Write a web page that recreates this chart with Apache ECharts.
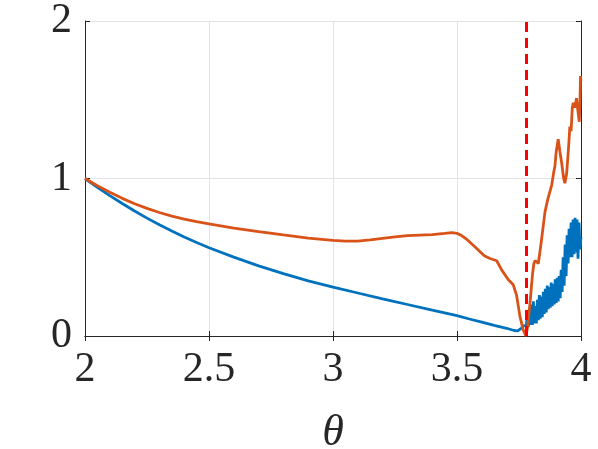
<!DOCTYPE html>
<html>
<head>
<meta charset="utf-8">
<script src="https://cdn.jsdelivr.net/npm/echarts@6/dist/echarts.min.js"></script>
<style>html,body{margin:0;padding:0;background:#fff;}#c{width:598px;height:449px;}</style>
</head>
<body>
<div id="c"></div>
<script>
// theta values and series data
var blueSmooth = [[2.0,1.0],[2.05,0.944],[2.1,0.891],[2.15,0.841],[2.2,0.7935],[2.25,0.7485],[2.3,0.706],[2.35,0.666],[2.4,0.6285],[2.45,0.5935],[2.5,0.5605],[2.6,0.5005],[2.7,0.4455],[2.8,0.3955],[2.9,0.3505],[3.0,0.3105],[3.1,0.273],[3.2,0.236],[3.3,0.2],[3.4,0.164],[3.5,0.129],[3.55,0.108],[3.6,0.088],[3.65,0.068],[3.7,0.049],[3.73,0.035],[3.745,0.033],[3.76,0.05],[3.77,0.065],[3.776,0.06]];
var blueNoisyTheta = [3.780,3.784,3.788,3.792,3.796,3.800,3.804,3.808,3.812,3.816,3.820,3.824,3.828,3.832,3.836,3.840,3.844,3.848,3.852,3.856,3.860,3.864,3.868,3.872,3.876,3.880,3.884,3.888,3.892,3.896,3.900,3.904,3.908,3.912,3.916,3.920,3.924,3.928,3.932,3.936,3.940,3.944,3.948,3.952,3.956,3.960,3.964,3.968,3.972,3.976,3.980,3.984,3.988,3.992,3.996,4.000];
var blueNoisyValues = [0.07,0.15,0.06,0.16,0.07,0.20,0.07,0.22,0.08,0.19,0.08,0.23,0.10,0.26,0.11,0.25,0.12,0.28,0.14,0.30,0.15,0.32,0.17,0.31,0.18,0.34,0.19,0.33,0.20,0.36,0.21,0.37,0.22,0.38,0.24,0.42,0.28,0.50,0.32,0.58,0.38,0.64,0.46,0.68,0.50,0.72,0.50,0.74,0.52,0.75,0.53,0.74,0.49,0.72,0.55,0.63];
var orangeData = [[2.0,1.0],[2.05,0.954],[2.1,0.912],[2.15,0.874],[2.2,0.84],[2.25,0.81],[2.3,0.784],[2.35,0.7615],[2.4,0.7425],[2.45,0.726],[2.5,0.7115],[2.6,0.6855],[2.7,0.6625],[2.8,0.6415],[2.9,0.6215],[3.0,0.6065],[3.05,0.602],[3.1,0.603],[3.15,0.61],[3.2,0.62],[3.25,0.63],[3.3,0.637],[3.35,0.641],[3.4,0.644],[3.45,0.651],[3.48,0.656],[3.5,0.652],[3.52,0.636],[3.54,0.613],[3.57,0.57],[3.593,0.535],[3.61,0.51],[3.633,0.492],[3.66,0.478],[3.68,0.42],[3.707,0.357],[3.727,0.325],[3.74,0.26],[3.754,0.123],[3.767,0.038],[3.778,0.0],[3.785,0.06],[3.79,0.14],[3.795,0.22],[3.8,0.31],[3.805,0.4],[3.81,0.46],[3.815,0.48],[3.82,0.47],[3.828,0.46],[3.832,0.45],[3.84,0.6],[3.847,0.69],[3.855,0.79],[3.862,0.84],[3.868,0.88],[3.872,0.87],[3.877,0.93],[3.882,0.96],[3.89,1.04],[3.895,1.08],[3.9,1.17],[3.908,1.25],[3.915,1.17],[3.922,1.1],[3.93,1.0],[3.935,0.97],[3.942,1.03],[3.95,1.2],[3.955,1.33],[3.96,1.3],[3.965,1.45],[3.969,1.48],[3.975,1.45],[3.982,1.51],[3.986,1.45],[3.99,1.4],[3.993,1.36],[3.996,1.5],[3.998,1.65],[4.0,1.62]];
var thresholdTheta = 3.778;
var xTickLabels = ['2','2.5','3','3.5','4'];
var yTickLabels = ['0','1','2'];

var blueData = blueSmooth.concat(blueNoisyTheta.map(function(t,i){return [t, blueNoisyValues[i]];}));

var font = 'Liberation Serif';
var axisColor = '#262626';
var chart = echarts.init(document.getElementById('c'));
chart.setOption({
  animation: false,
  grid: {left: 85, right: 17, top: 21, bottom: 113, containLabel: false, outerBoundsMode: 'none'},
  xAxis: [{
    type: 'value', min: 2, max: 4, interval: 0.5,
    name: 'θ', nameLocation: 'middle', nameGap: 75,
    nameTextStyle: {fontFamily: font, fontStyle: 'italic', fontSize: 44, color: '#262626'},
    axisLine: {show: true, lineStyle: {color: axisColor, width: 1}},
    axisTick: {show: true, inside: true, length: 5, lineStyle: {color: axisColor}},
    axisLabel: {fontFamily: font, fontSize: 42, color: '#262626', margin: 13,
      formatter: function(v){ var i = Math.round((v-2)/0.5); return xTickLabels[i] || ''; }},
    splitLine: {show: true, lineStyle: {color: '#e3e3e3', width: 1}}
  },{
    type: 'value', min: 2, max: 4, interval: 0.5, position: 'top',
    axisLine: {show: true, lineStyle: {color: axisColor, width: 1}},
    axisTick: {show: true, inside: true, length: 5, lineStyle: {color: axisColor}},
    axisLabel: {show: false}, splitLine: {show: false}
  }],
  yAxis: [{
    type: 'value', min: 0, max: 2, interval: 1,
    axisLine: {show: true, lineStyle: {color: axisColor, width: 1}},
    axisTick: {show: true, inside: true, length: 5, lineStyle: {color: axisColor}},
    axisLabel: {fontFamily: font, fontSize: 42, color: '#262626', margin: 13,
      formatter: function(v){ return yTickLabels[Math.round(v)] || ''; }},
    splitLine: {show: true, lineStyle: {color: '#e3e3e3', width: 1}}
  },{
    type: 'value', min: 0, max: 2, interval: 1, position: 'right',
    axisLine: {show: true, lineStyle: {color: axisColor, width: 1}},
    axisTick: {show: true, inside: true, length: 5, lineStyle: {color: axisColor}},
    axisLabel: {show: false}, splitLine: {show: false}
  }],
  series: [{
    type: 'line', data: blueData, showSymbol: false, symbol: 'none',
    lineStyle: {color: '#0072BD', width: 2.8}, z: 2
  },{
    type: 'line', data: orangeData, showSymbol: false, symbol: 'none',
    lineStyle: {color: '#D95319', width: 2.8}, z: 3,
    markLine: {
      silent: true, symbol: 'none', label: {show: false},
      lineStyle: {color: '#FF0000', width: 3, type: [10, 6]},
      data: [{xAxis: thresholdTheta}], z: 5
    }
  }]
});
</script>
</body>
</html>
